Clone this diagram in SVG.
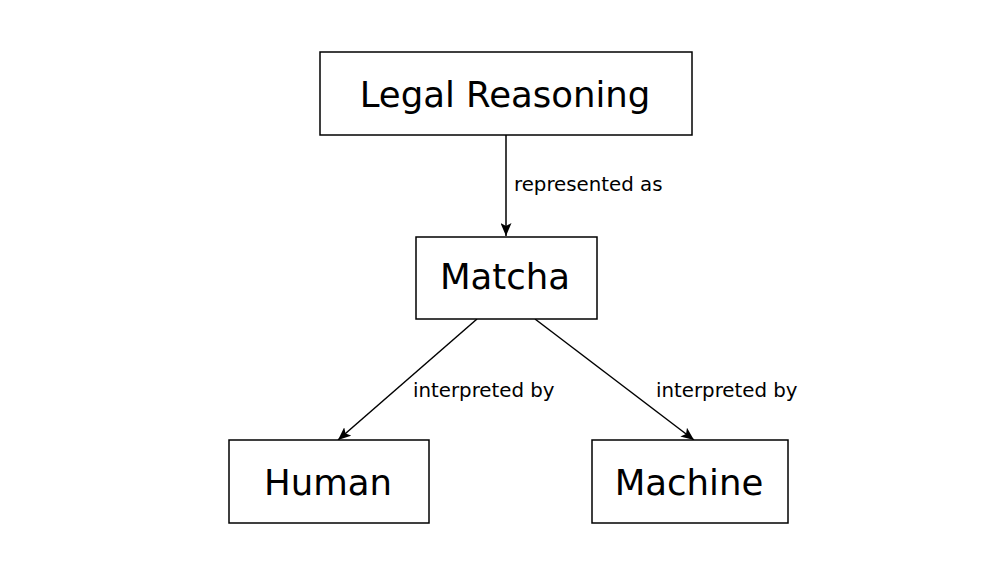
<svg xmlns="http://www.w3.org/2000/svg" width="1000" height="575" viewBox="0 0 1000 575">
<defs>
<marker id="arr" viewBox="0 0 13 11" refX="13" refY="5.5" markerWidth="13" markerHeight="11" markerUnits="userSpaceOnUse" orient="auto">
<path d="M0,0 L13,5.5 L0,11 L3,5.5 Z" fill="#000"/>
</marker>
<style>
.box{fill:#fff;stroke:#000;stroke-width:1.5}
.big{font-family:"DejaVu Sans",sans-serif;font-size:35.5px;fill:#000;text-anchor:middle}
.lbl{font-family:"DejaVu Sans",sans-serif;font-size:19.8px;fill:#000}
.edge{stroke:#000;stroke-width:1.5;fill:none;marker-end:url(#arr)}
</style>
</defs>
<rect width="1000" height="575" fill="#fff"/>
<g id="connectors">
<line class="edge" x1="506" y1="135" x2="506" y2="236"/>
<line class="edge" x1="477" y1="319" x2="338" y2="440"/>
<line class="edge" x1="535" y1="319" x2="694" y2="440"/>
<text class="lbl" x="514" y="191">represented as</text>
<text class="lbl" x="413" y="397">interpreted by</text>
<text class="lbl" x="656" y="397">interpreted by</text>
</g>
<g id="legal">
<rect class="box" x="320" y="52" width="372" height="83"/>
<text class="big" x="505" y="107">Legal Reasoning</text>
</g>
<g id="matcha">
<rect class="box" x="416" y="237" width="181" height="82"/>
<text class="big" x="505" y="289">Matcha</text>
</g>
<g id="human">
<rect class="box" x="229" y="440" width="200" height="83"/>
<text class="big" x="328" y="495">Human</text>
</g>
<g id="machine">
<rect class="box" x="592" y="440" width="196" height="83"/>
<text class="big" x="689" y="495">Machine</text>
</g>
</svg>
